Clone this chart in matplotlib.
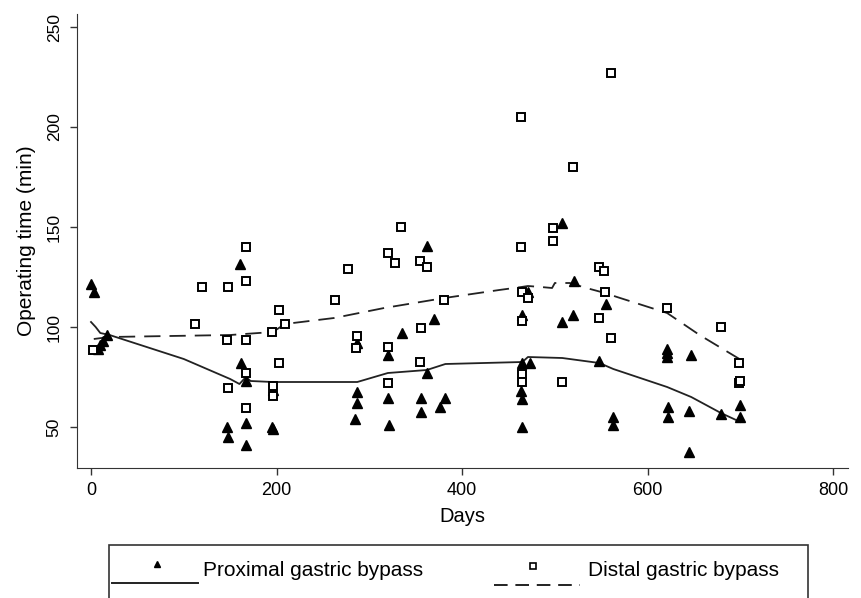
import matplotlib
matplotlib.use("Agg")
import matplotlib.pyplot as plt
from matplotlib.lines import Line2D
from matplotlib.patches import Rectangle

plt.rcParams['font.family'] = ['Liberation Sans', 'DejaVu Sans']

# proximal gastric bypass (triangles)
prox_days = [0, 3, 8, 10, 13, 17, 161, 162, 167, 147, 148, 167, 167, 195, 196,
             196, 287, 287, 287, 285, 320, 320, 321, 335, 362, 370, 362, 356,
             356, 376, 382, 508, 521, 555, 471, 465, 508, 520, 465, 473, 548,
             464, 465, 465, 563, 563, 621, 621, 621, 647, 622, 622, 645, 645,
             679, 700, 700]
prox_time = [121.5, 117.5, 89, 91, 93, 96, 131.5, 82, 73, 50, 45, 52, 41, 50, 49,
             68.5, 92, 67.5, 62, 54, 86, 64.5, 51, 97, 140.5, 104, 77, 64.5,
             57.5, 60, 64.5, 152, 123, 111.5, 117.5, 106, 102.5, 106, 82, 82, 83,
             68, 64, 50, 55, 51, 89, 87, 85, 86, 60, 55, 58, 37.5,
             56.5, 61, 55]

# distal gastric bypass (squares)
dist_days = [2.5, 112, 120, 148, 167, 167, 147, 167, 167, 148, 167, 203, 209,
             195, 203, 196, 196, 263, 277, 287, 286, 320, 328, 334, 320, 320,
             355, 362, 356, 355, 381, 463, 561, 520, 498, 498, 464, 548, 553,
             465, 471, 554, 465, 548, 561, 465, 465, 508, 621, 679, 699, 699, 700]
dist_time = [88.5, 101.5, 120, 120, 140, 123, 93.5, 93.5, 77, 69.5, 59.5, 108.5, 101.5,
             97.5, 82, 70.5, 65.5, 113.5, 129, 95.5, 89.5, 137, 132, 150, 90, 72,
             133, 130, 99.5, 82.5, 113.5, 205, 227, 180, 149.5, 143, 140, 130, 128,
             117.5, 114.5, 117.5, 103, 104.5, 94.5, 76.5, 72.5, 72.5, 109.5, 100, 82, 72, 73]

# smoothed curves (lowess)
prox_fit_days = [0, 5, 10, 20, 100, 150, 160, 167, 172, 196, 287, 320, 362, 382,
                 465, 471, 508, 548, 563, 621, 647, 679, 700]
prox_fit_time = [102.5, 100, 97, 96, 84, 74, 71.5, 75, 73, 72.5, 72.5, 77, 78.5, 81.5,
                 82.5, 85, 84.5, 82, 79, 70, 65, 57, 52.5]
dist_fit_days = [3, 20, 150, 196, 209, 262, 316, 381, 440, 464, 471, 485, 497, 500,
                 516, 534, 554, 567, 621, 656, 699]
dist_fit_time = [94, 95, 96, 97.5, 101.5, 104.5, 109.5, 114.5, 118.5, 120, 120.5, 120,
                 119.5, 122, 122, 119.5, 117, 115, 107, 96, 84]

W, H = 861, 598
fig = plt.figure(figsize=(W / 100, H / 100), dpi=100)
ax = fig.add_axes([77 / W, 1 - 468 / H, (848 - 77) / W, (468 - 14) / H])

ax.plot(prox_days, prox_time, linestyle='none', marker='^', ms=6.8,
        color='black', zorder=3)
ax.plot(dist_days, dist_time, linestyle='none', marker='s', ms=5.6,
        mfc='white', mec='black', mew=1.4, zorder=3)
ax.plot(prox_fit_days, prox_fit_time, color='#222222', lw=1.3)
ax.plot(dist_fit_days, dist_fit_time, color='#222222', lw=1.3,
        linestyle=(0, (9, 5)))

ax.set_xlim(-15.1, 816)
ax.set_ylim(29.5, 256.5)
ax.set_xticks([0, 200, 400, 600, 800])
ax.set_yticks([50, 100, 150, 200, 250])
ax.spines['top'].set_visible(False)
ax.spines['right'].set_visible(False)
for s in ['left', 'bottom']:
    ax.spines[s].set_color('#333333')
ax.tick_params(axis='x', length=5, width=1, color='#333333', labelsize=13, pad=5)
ax.tick_params(axis='y', length=5, width=1, color='#333333', labelsize=12.5, pad=6)
for lab in ax.get_yticklabels():
    lab.set_rotation(90)
    lab.set_va('center')

ax.set_xlabel('Days', fontsize=14.5, labelpad=6)
ax.set_ylabel('Operating time (min)', fontsize=15, labelpad=8)

# legend box, cut off at the bottom like the original
fig.add_artist(Rectangle((109 / W, -0.1), (808 - 109) / W, 0.1 + 1 - 545 / H,
                         transform=fig.transFigure, fill=False,
                         edgecolor='#333333', lw=1.2))
fig.add_artist(Line2D([112 / W, 198 / W], [1 - 583 / H] * 2, color='#222222', lw=1.4))
fig.add_artist(Line2D([157 / W], [1 - 564 / H], marker='^', ms=5, color='black'))
fig.text(203 / W, 1 - 571 / H, 'Proximal gastric bypass', fontsize=15, va='center')
fig.add_artist(Line2D([494 / W, 580 / W], [1 - 585 / H] * 2, color='#222222', lw=1.4,
                      linestyle=(0, (7, 4))))
fig.add_artist(Line2D([533 / W], [1 - 566 / H], marker='s', ms=4, mfc='white',
                      mec='black', mew=1.2))
fig.text(588 / W, 1 - 571 / H, 'Distal gastric bypass', fontsize=15, va='center')

fig.savefig('out.png', dpi=100)
